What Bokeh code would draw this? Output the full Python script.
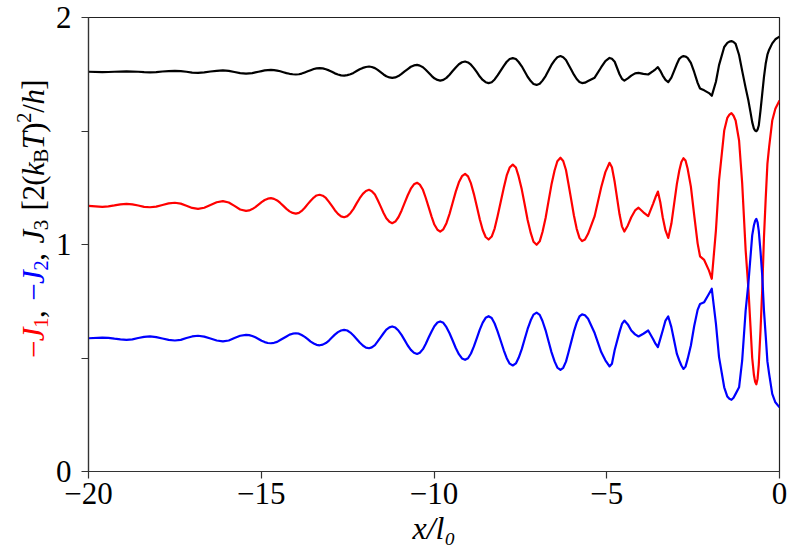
from math import pi
from bokeh.plotting import figure
from bokeh.models import Range1d, FixedTicker
from bokeh.layouts import row
from bokeh.core.properties import value
from bokeh.embed import file_html
from bokeh.resources import INLINE

# ---- data ----
x_vals = [
    -20.00, -19.60, -19.425, -19.25, -19.075, -18.90, -18.73, -18.56, -18.39, -18.22,
    -18.04, -17.86, -17.68, -17.50, -17.33, -17.165, -17.00, -16.83, -16.65, -16.47,
    -16.29, -16.11, -15.94, -15.775, -15.61, -15.44, -15.35, -15.26, -15.17, -15.08,
    -14.99, -14.90, -14.81, -14.72, -14.63, -14.54, -14.45, -14.36, -14.27, -14.18,
    -14.09, -14.00, -13.91, -13.83, -13.74, -13.655, -13.57, -13.48, -13.40, -13.31,
    -13.22, -13.13, -13.04, -12.955, -12.87, -12.78, -12.69, -12.60, -12.51, -12.42,
    -12.33, -12.24, -12.15, -12.06, -11.97, -11.88, -11.80, -11.71, -11.63, -11.545,
    -11.46, -11.38, -11.29, -11.21, -11.12, -11.03, -10.94, -10.85, -10.76, -10.67,
    -10.58, -10.49, -10.41, -10.32, -10.24, -10.155, -10.07, -9.99, -9.90, -9.82,
    -9.73, -9.64, -9.55, -9.46, -9.37, -9.28, -9.19, -9.10, -9.015, -8.93,
    -8.845, -8.76, -8.675, -8.59, -8.505, -8.42, -8.33, -8.245, -8.16, -8.07,
    -7.98, -7.895, -7.81, -7.72, -7.63, -7.55, -7.46, -7.375, -7.29, -7.20,
    -7.12, -7.03, -6.94, -6.86, -6.77, -6.685, -6.60, -6.51, -6.43, -6.34,
    -6.26, -6.18, -6.11, -6.03, -5.95, -5.87, -5.79, -5.715, -5.63, -5.54,
    -5.35, -5.16, -5.04, -4.92, -4.85, -4.77, -4.63, -4.56, -4.49, -4.39,
    -4.29, -4.18, -4.08, -3.94, -3.80, -3.66, -3.59, -3.52, -3.45, -3.38,
    -3.30, -3.22, -3.13, -3.05, -2.97, -2.90, -2.84, -2.78, -2.72, -2.66,
    -2.565, -2.47, -2.37, -2.30, -2.18, -2.04, -1.96, -1.84, -1.75, -1.60,
    -1.51, -1.45, -1.39, -1.33, -1.27, -1.17, -1.08, -0.98, -0.90, -0.84,
    -0.79, -0.74, -0.705, -0.67, -0.635, -0.60, -0.55, -0.50, -0.45, -0.40,
    -0.35, -0.30, -0.21, -0.12, 0.00,
]

minus_J1 = [
    1.170, 1.166, 1.168, 1.172, 1.177, 1.179, 1.177, 1.172, 1.166, 1.164,
    1.167, 1.174, 1.181, 1.184, 1.180, 1.171, 1.161, 1.157, 1.162, 1.174,
    1.186, 1.191, 1.185, 1.170, 1.154, 1.148, 1.150, 1.156, 1.165, 1.176,
    1.187, 1.196, 1.202, 1.204, 1.201, 1.194, 1.183, 1.170, 1.157, 1.146,
    1.139, 1.136, 1.139, 1.148, 1.162, 1.178, 1.193, 1.207, 1.216, 1.219,
    1.215, 1.205, 1.188, 1.170, 1.151, 1.135, 1.124, 1.120, 1.125, 1.138,
    1.157, 1.181, 1.204, 1.223, 1.236, 1.241, 1.235, 1.220, 1.196, 1.168,
    1.139, 1.116, 1.100, 1.094, 1.101, 1.120, 1.149, 1.183, 1.217, 1.246,
    1.265, 1.272, 1.264, 1.241, 1.206, 1.165, 1.123, 1.088, 1.065, 1.057,
    1.067, 1.094, 1.135, 1.184, 1.233, 1.274, 1.301, 1.311, 1.300, 1.269,
    1.222, 1.167, 1.111, 1.064, 1.033, 1.022, 1.035, 1.070, 1.124, 1.187,
    1.250, 1.304, 1.339, 1.352, 1.339, 1.300, 1.243, 1.176, 1.108, 1.051,
    1.012, 0.999, 1.014, 1.055, 1.117, 1.191, 1.264, 1.326, 1.367, 1.382,
    1.368, 1.328, 1.269, 1.199, 1.128, 1.069, 1.029, 1.015, 1.022, 1.047,
    1.125, 1.252, 1.319, 1.360, 1.340, 1.275, 1.133, 1.080, 1.057, 1.084,
    1.120, 1.150, 1.162, 1.142, 1.125, 1.179, 1.208, 1.233, 1.186, 1.120,
    1.062, 1.029, 1.091, 1.179, 1.267, 1.326, 1.363, 1.380, 1.370, 1.335,
    1.255, 1.130, 1.005, 0.948, 0.932, 0.885, 0.849, 1.062, 1.282, 1.502,
    1.558, 1.572, 1.579, 1.567, 1.546, 1.458, 1.270, 0.975, 0.805, 0.640,
    0.500, 0.425, 0.395, 0.384, 0.408, 0.470, 0.620, 0.800, 1.030, 1.200,
    1.355, 1.430, 1.546, 1.598, 1.634,
]

minus_J2 = [
    0.587, 0.590, 0.589, 0.585, 0.582, 0.580, 0.582, 0.588, 0.593, 0.595,
    0.592, 0.586, 0.580, 0.577, 0.580, 0.588, 0.595, 0.598, 0.594, 0.586,
    0.577, 0.573, 0.577, 0.588, 0.598, 0.602, 0.601, 0.597, 0.591, 0.584,
    0.576, 0.570, 0.566, 0.565, 0.567, 0.571, 0.579, 0.587, 0.595, 0.603,
    0.607, 0.609, 0.607, 0.601, 0.593, 0.583, 0.572, 0.564, 0.558, 0.556,
    0.559, 0.566, 0.577, 0.590, 0.603, 0.614, 0.621, 0.624, 0.621, 0.612,
    0.599, 0.584, 0.568, 0.555, 0.546, 0.543, 0.547, 0.557, 0.573, 0.591,
    0.609, 0.625, 0.635, 0.639, 0.634, 0.621, 0.602, 0.579, 0.555, 0.536,
    0.523, 0.518, 0.523, 0.539, 0.562, 0.590, 0.617, 0.640, 0.656, 0.661,
    0.655, 0.636, 0.609, 0.577, 0.544, 0.517, 0.498, 0.492, 0.499, 0.520,
    0.551, 0.588, 0.625, 0.656, 0.677, 0.684, 0.676, 0.652, 0.617, 0.576,
    0.534, 0.499, 0.475, 0.467, 0.476, 0.501, 0.539, 0.584, 0.628, 0.666,
    0.691, 0.700, 0.690, 0.663, 0.622, 0.574, 0.526, 0.485, 0.458, 0.448,
    0.457, 0.484, 0.523, 0.570, 0.617, 0.656, 0.683, 0.692, 0.688, 0.673,
    0.610, 0.526, 0.490, 0.463, 0.475, 0.535, 0.615, 0.650, 0.665, 0.648,
    0.621, 0.604, 0.595, 0.607, 0.621, 0.584, 0.563, 0.548, 0.584, 0.621,
    0.665, 0.683, 0.636, 0.577, 0.518, 0.489, 0.467, 0.452, 0.462, 0.495,
    0.555, 0.640, 0.712, 0.738, 0.746, 0.783, 0.805, 0.651, 0.504, 0.371,
    0.330, 0.320, 0.316, 0.325, 0.342, 0.371, 0.489, 0.709, 0.830, 0.945,
    1.040, 1.085, 1.104, 1.113, 1.098, 1.060, 0.970, 0.865, 0.710, 0.600,
    0.485, 0.430, 0.342, 0.305, 0.283,
]

J3 = [
    1.761, 1.759, 1.760, 1.761, 1.762, 1.763, 1.762, 1.761, 1.759, 1.758,
    1.759, 1.762, 1.764, 1.765, 1.764, 1.761, 1.757, 1.756, 1.758, 1.762,
    1.765, 1.767, 1.765, 1.760, 1.755, 1.753, 1.754, 1.755, 1.758, 1.761,
    1.764, 1.767, 1.768, 1.769, 1.768, 1.766, 1.763, 1.759, 1.755, 1.752,
    1.750, 1.749, 1.750, 1.753, 1.758, 1.763, 1.768, 1.773, 1.776, 1.777,
    1.776, 1.772, 1.767, 1.761, 1.754, 1.749, 1.745, 1.744, 1.746, 1.750,
    1.756, 1.764, 1.772, 1.778, 1.782, 1.784, 1.782, 1.777, 1.769, 1.759,
    1.749, 1.741, 1.736, 1.734, 1.736, 1.742, 1.752, 1.763, 1.773, 1.783,
    1.789, 1.791, 1.788, 1.781, 1.770, 1.757, 1.743, 1.732, 1.725, 1.722,
    1.725, 1.734, 1.748, 1.764, 1.780, 1.794, 1.803, 1.806, 1.802, 1.792,
    1.777, 1.759, 1.740, 1.725, 1.715, 1.711, 1.715, 1.727, 1.745, 1.766,
    1.787, 1.805, 1.817, 1.821, 1.817, 1.804, 1.785, 1.762, 1.739, 1.720,
    1.707, 1.703, 1.708, 1.722, 1.742, 1.767, 1.791, 1.811, 1.825, 1.830,
    1.825, 1.813, 1.793, 1.771, 1.748, 1.729, 1.716, 1.711, 1.713, 1.720,
    1.735, 1.781, 1.808, 1.822, 1.818, 1.805, 1.750, 1.730, 1.722, 1.732,
    1.744, 1.754, 1.756, 1.752, 1.749, 1.764, 1.772, 1.781, 1.765, 1.744,
    1.725, 1.715, 1.735, 1.765, 1.795, 1.818, 1.826, 1.830, 1.828, 1.822,
    1.800, 1.760, 1.712, 1.687, 1.679, 1.667, 1.655, 1.717, 1.790, 1.870,
    1.888, 1.894, 1.896, 1.892, 1.884, 1.835, 1.765, 1.690, 1.634, 1.583,
    1.539, 1.510, 1.502, 1.499, 1.506, 1.524, 1.590, 1.664, 1.737, 1.796,
    1.836, 1.858, 1.886, 1.904, 1.916,
]

x_ticks = [-20, -15, -10, -5, 0]
x_tick_labels = ["\u221220", "\u221215", "\u221210", "\u22125", "0"]
y_ticks = [0, 0.5, 1, 1.5, 2]
y_tick_labels = ["0", "", "1", "", "2"]

RED = "#ff0000"
BLUE = "#0000ff"
BLACK = "#000000"
FONT = "Liberation Serif"

LEFT_W = 52
W, H = 789, 550

# ---- main plot ----
p = figure(width=W - LEFT_W, height=H, output_backend="svg", toolbar_location=None,
           x_range=Range1d(-20, 0), y_range=Range1d(0, 2),
           min_border_left=85 - LEFT_W, min_border_right=10, min_border_top=17,
           min_border_bottom=79)
p.grid.visible = False
p.background_fill_color = "white"
p.border_fill_color = "white"
p.outline_line_color = "#222222"
p.outline_line_width = 1.2

for ax in (p.xaxis[0], p.yaxis[0]):
    ax.axis_line_color = "#333333"
    ax.axis_line_width = 1.2
    ax.major_tick_line_color = "#333333"
    ax.major_tick_line_width = 1.2
    ax.major_tick_out = 7
    ax.major_tick_in = 0
    ax.minor_tick_line_color = None
    ax.major_label_text_font = FONT
    ax.major_label_text_font_size = "31px"
    ax.major_label_text_color = "black"

p.xaxis[0].ticker = FixedTicker(ticks=x_ticks)
p.xaxis[0].major_label_overrides = {t: s for t, s in zip(x_ticks, x_tick_labels)}
p.xaxis[0].major_label_standoff = 4
p.xaxis[0].axis_label = "x/l\u2080"
p.xaxis[0].axis_label_text_font = FONT
p.xaxis[0].axis_label_text_font_size = "32px"
p.xaxis[0].axis_label_text_font_style = "italic"
p.xaxis[0].axis_label_text_color = "black"
p.xaxis[0].axis_label_standoff = 3
p.yaxis[0].ticker = FixedTicker(ticks=y_ticks)
p.yaxis[0].major_label_overrides = {t: s for t, s in zip(y_ticks, y_tick_labels)}
p.yaxis[0].major_label_standoff = 10

p.line(x_vals, minus_J1, line_color=RED, line_width=2.2, line_join="round")
p.line(x_vals, minus_J2, line_color=BLUE, line_width=2.2, line_join="round")
p.line(x_vals, J3, line_color=BLACK, line_width=2.2, line_join="round")

# ---- y axis label (coloured pieces), drawn in a narrow side panel ----
q = figure(width=LEFT_W, height=H, output_backend="svg", toolbar_location=None,
           x_range=Range1d(0, LEFT_W), y_range=Range1d(0, H),
           x_axis_location=None, y_axis_location=None,
           min_border_left=0, min_border_right=0, min_border_top=0, min_border_bottom=0)
q.grid.visible = False
q.outline_line_color = None
q.background_fill_color = "white"
q.border_fill_color = "white"

EM = {"\u2212": 0.564, "J": 0.444, "1": 0.5, "2": 0.5, "3": 0.5, ",": 0.25,
      "[": 0.333, "(": 0.333, ")": 0.333, "k": 0.444, "B": 0.667, "T": 0.556,
      "/": 0.278, "h": 0.5, "]": 0.333, " ": 0.33}
MAIN, SMALL = 31, 21
ypieces = [
    ("\u2212", RED, "m", "normal"), ("J", RED, "m", "italic"), ("1", RED, "b", "normal"),
    (",", BLACK, "m", "normal"), (" ", BLACK, "m", "normal"),
    ("\u2212", BLUE, "m", "normal"), ("J", BLUE, "m", "italic"), ("2", BLUE, "b", "normal"),
    (",", BLACK, "m", "normal"), (" ", BLACK, "m", "normal"),
    ("J", BLACK, "m", "italic"), ("3", BLACK, "b", "normal"), (" ", BLACK, "m", "normal"),
    ("[", BLACK, "m", "normal"), ("2", BLACK, "m", "normal"), ("(", BLACK, "m", "normal"),
    ("k", BLACK, "m", "italic"), ("B", BLACK, "b", "normal"), ("T", BLACK, "m", "italic"),
    (")", BLACK, "m", "normal"), ("2", BLACK, "p", "normal"), ("/", BLACK, "m", "normal"),
    ("h", BLACK, "m", "italic"), ("]", BLACK, "m", "normal"),
]
base_x = {"m": 33, "b": 40, "p": 23}   # page x of the rotated baselines
widths = [EM[c] * (MAIN if k == "m" else SMALL) for c, _, k, _ in ypieces]
span = 337.0
stretch = span / sum(widths)
page_y = 244 + span / 2          # bottom end of the label (page y)
for (c, col, k, st), w in zip(ypieces, widths):
    if c != " ":
        q.text(x=[base_x[k]], y=[H - page_y], text=[c], angle=pi / 2,
               text_color=col, text_font=value(FONT),
               text_font_size=value(f"{MAIN if k == 'm' else SMALL}px"),
               text_font_style=value(st), text_align="left",
               text_baseline="alphabetic")
    page_y -= w * stretch

layout = row(q, p)
open("out.html", "w").write(file_html(layout, INLINE))
